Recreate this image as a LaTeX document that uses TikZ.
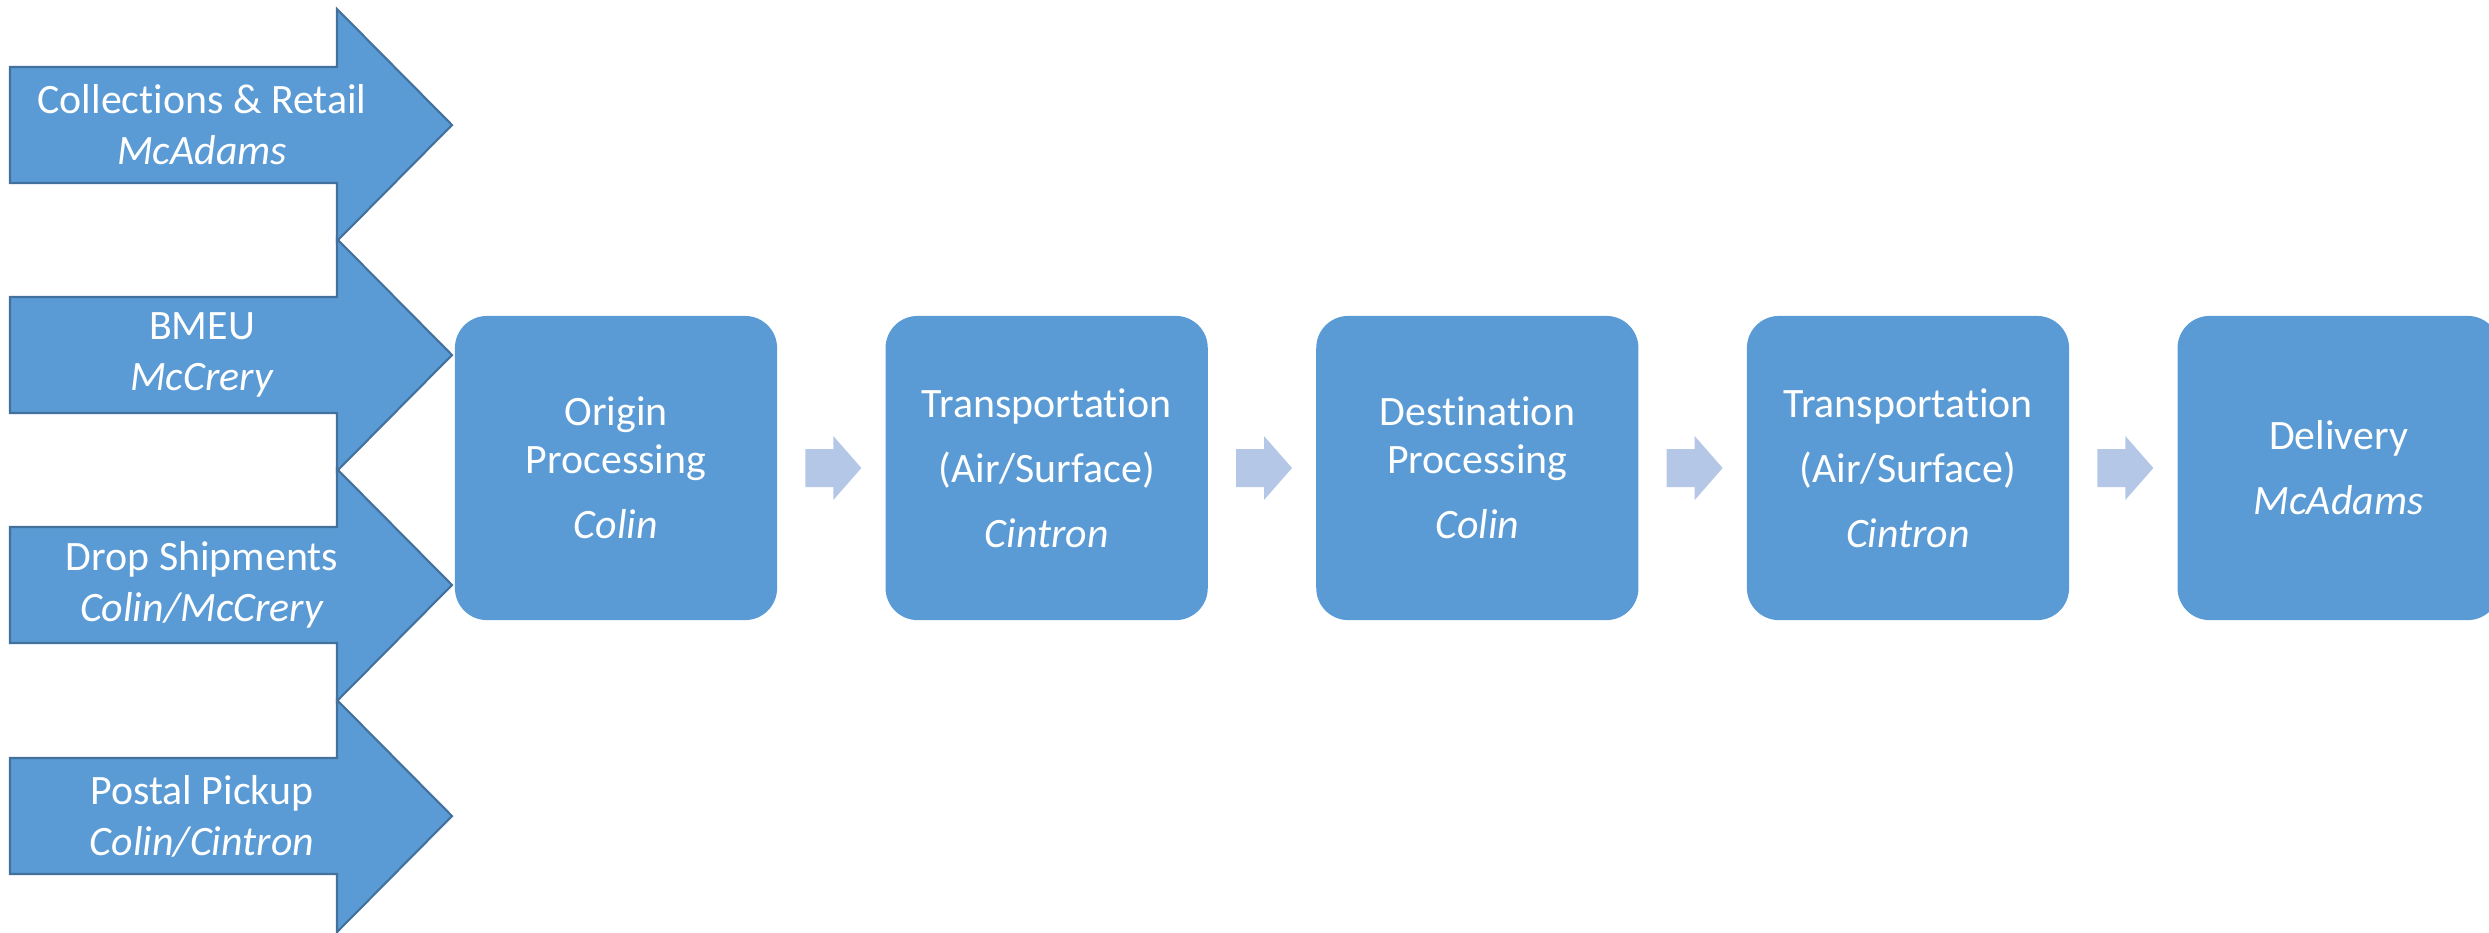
\documentclass[tikz,border=0pt]{standalone}
\usepackage{fontspec}
\setmainfont[Ligatures={NoCommon,NoRare,NoContextual}]{Carlito}
\usepackage{xcolor}
\usetikzlibrary{positioning, calc}
\definecolor{stageblue}{HTML}{5B9BD5}
\definecolor{stageedge}{HTML}{41719C}
\definecolor{linkblue}{HTML}{B4C7E7}
\tikzstyle{stage} = [rectangle, rounded corners=0.32cm, minimum width=3.22cm, minimum height=3.04cm, align=center, fill=stageblue, text=white, inner sep=0pt, font=\fontsize{11.9}{13.7}\selectfont]
\tikzstyle{link} = [fill=linkblue, draw=none]
\tikzstyle{feed} = [fill=stageblue, draw=stageedge, line width=0.6pt, line join=miter]
\tikzstyle{feedtext} = [align=center, text=white, inner sep=0pt, font=\fontsize{11.9}{14.5}\selectfont]

\begin{document}
\begin{tikzpicture}[x=0.01cm, y=-0.01cm, node distance=1.07cm]
    \useasboundingbox (0,0) rectangle (2489,932);

    % Collections & Retail
    \draw[feed] (10,67) -- (337,67) -- (337,9) -- (452,125) -- (337,241) -- (337,183) -- (10,183) -- cycle;
    \node[feedtext] (collect) at (202,125) {Collections \& Retail\\\textit{McAdams}};

    % BMEU
    \draw[feed] (10,297) -- (337,297) -- (337,239) -- (452,355) -- (337,471) -- (337,413) -- (10,413) -- cycle;
    \node[feedtext] (bmeu) at (202,355) {BMEU\\\textit{McCrery}};

    % Drop Shipments
    \draw[feed] (10,527) -- (337,527) -- (337,469) -- (452,585) -- (337,701) -- (337,643) -- (10,643) -- cycle;
    \node[feedtext] (drop) at (202,585) {Drop Shipments\\\textit{Colin/McCrery}};

    % Postal Pickup
    \draw[feed] (10,758) -- (337,758) -- (337,700) -- (452,816) -- (337,932) -- (337,874) -- (10,874) -- cycle;
    \node[feedtext] (pickup) at (202,816) {Postal Pickup\\\textit{Colin/Cintron}};

    % Mail flow stages
    \node[stage] (origin) at (616,468) {Origin\\Processing\\[4.8pt]\textit{Colin}};
    \node[stage, right=of origin] (transone) {Transportation\\[4.8pt](Air/Surface)\\[4.8pt]\textit{Cintron}};
    \node[stage, right=of transone] (dest) {Destination\\Processing\\[4.8pt]\textit{Colin}};
    \node[stage, right=of dest] (transtwo) {Transportation\\[4.8pt](Air/Surface)\\[4.8pt]\textit{Cintron}};
    \node[stage, right=of transtwo] (delivery) {Delivery\\[4.8pt]\textit{McAdams}};

    % Links between stages
    \coordinate (linkone) at ($(origin.east)!0.5!(transone.west)+(2,0)$);
    \coordinate (linktwo) at ($(transone.east)!0.5!(dest.west)+(2,0)$);
    \coordinate (linkthree) at ($(dest.east)!0.5!(transtwo.west)+(2,0)$);
    \coordinate (linkfour) at ($(transtwo.east)!0.5!(delivery.west)+(2,0)$);
    \fill[link, shift={(linkone)}] (-28,-19) -- (0,-19) -- (0,-32) -- (28,0) -- (0,32) -- (0,19) -- (-28,19) -- cycle;
    \fill[link, shift={(linktwo)}] (-28,-19) -- (0,-19) -- (0,-32) -- (28,0) -- (0,32) -- (0,19) -- (-28,19) -- cycle;
    \fill[link, shift={(linkthree)}] (-28,-19) -- (0,-19) -- (0,-32) -- (28,0) -- (0,32) -- (0,19) -- (-28,19) -- cycle;
    \fill[link, shift={(linkfour)}] (-28,-19) -- (0,-19) -- (0,-32) -- (28,0) -- (0,32) -- (0,19) -- (-28,19) -- cycle;

\end{tikzpicture}
\end{document}
